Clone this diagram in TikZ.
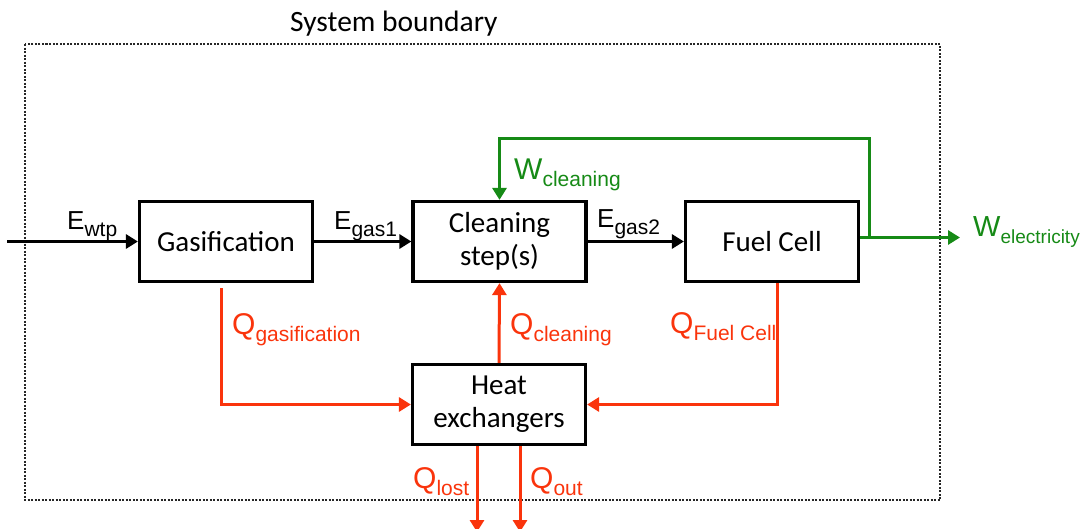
\documentclass[tikz,border=0pt]{standalone}
\usepackage{fontspec}
\usetikzlibrary{arrows.meta}
\newfontfamily\labfont{Liberation Sans}
\newfontfamily\boxfont{Carlito}
\definecolor{heatred}{RGB}{250,52,12}
\definecolor{workgreen}{RGB}{22,138,22}
% main symbol with a lowered subscript
\newcommand{\flowlab}[4][21]{{\labfont\fontsize{#2}{#2}\selectfont #3}{\labfont\fontsize{#1}{#1}\selectfont\raisebox{-7pt}{#4}}}
\tikzset{
  unitbox/.style={draw=black, line width=3.2pt, fill=white, minimum width=173pt,
    minimum height=80pt, inner sep=0pt, align=center,
    font=\boxfont\fontsize{29}{33}\selectfont},
  tip/.style={-{Triangle[length=12pt,width=14pt]}},
  eflow/.style={tip, line width=3pt, draw=black},
  gflow/.style={tip, line width=3pt, draw=workgreen},
  rflow/.style={tip, line width=3pt, draw=heatred},
  lab/.style={anchor=base west, inner sep=0pt},
  boundary/.style={draw=black!85, line width=1.1pt, dash pattern=on 2pt off 1.5pt}
}
\begin{document}
\begin{tikzpicture}[x=1pt, y=-1pt]
\useasboundingbox (0,0) rectangle (1083,528);

% system boundary
\draw[boundary] (25,44) rectangle (940,500);
\node[lab, font=\boxfont\fontsize{29.5}{29.5}\selectfont] (sysb) at (290,31) {System boundary};

% process units
\node[unitbox] (gas) at (226,241.5) {Gasification};
\node[unitbox] (clean) at (499.5,241.5) {Cleaning\\step(s)};
\node[unitbox] (fuel) at (772,241.5) {Fuel Cell};
\node[unitbox] (heat) at (499,404.5) {Heat\\exchangers};

% energy flows
\coordinate (in) at (7,241.5);
\draw[eflow] (in) -- (gas);
\draw[eflow] (gas) -- (clean);
\draw[eflow] (clean) -- (fuel);

% electrical work
\coordinate (wout) at (960,237.5);
\coordinate (junc) at (869,237.5);
\coordinate (wtop) at (869,138);
\draw[gflow] ([yshift=4pt]fuel.east) -- (wout);
\draw[gflow] (junc) -- (wtop) -| (clean.north);

% heat flows
\draw[rflow] ([xshift=-5pt,yshift=-5pt]gas.south) |- (heat.west);
\draw[rflow] (heat.north) -- (clean.south);
\draw[rflow] ([xshift=5pt]fuel.south) |- (heat.east);
\coordinate (lostend) at (477,532);
\coordinate (outend) at (520,532);
\draw[rflow] (heat.south -| lostend) -- (lostend);
\draw[rflow] (heat.south -| outend) -- (outend);

% flow labels
\node[lab] (ewtp) at (67,229) {\flowlab{26}{E}{wtp}};
\node[lab] (egas1) at (334,229) {\flowlab{26}{E}{gas1}};
\node[lab] (egas2) at (597,227) {\flowlab{26}{E}{gas2}};
\node[lab, text=workgreen] (wcl) at (514,179) {\flowlab{30}{W}{cleaning}};
\node[lab, text=workgreen] (wel) at (973,236) {\flowlab[19]{29}{W}{electricity}};
\node[lab, text=heatred] (qgas) at (232,334) {\flowlab{30}{Q}{gasification}};
\node[lab, text=heatred] (qcl) at (510,334) {\flowlab{30}{Q}{cleaning}};
\node[lab, text=heatred] (qfc) at (670,333) {\flowlab{30}{Q}{Fuel Cell}};
\node[lab, text=heatred] (qlost) at (413,488) {\flowlab{30}{Q}{lost}};
\node[lab, text=heatred] (qout) at (530,488) {\flowlab{30}{Q}{out}};
\end{tikzpicture}
\end{document}
